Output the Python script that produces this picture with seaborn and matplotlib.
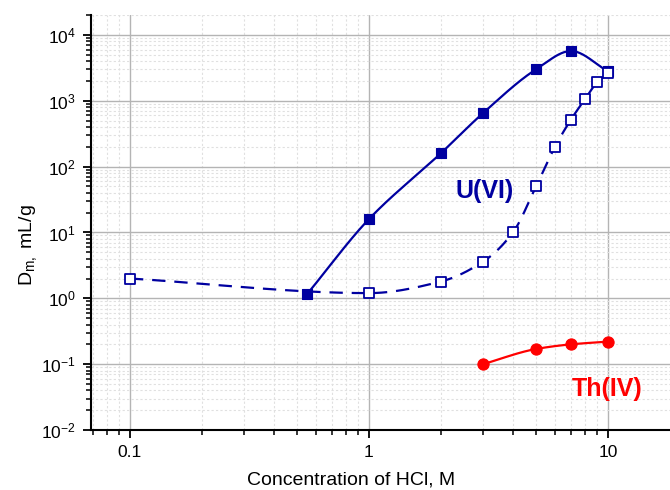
import numpy as np
import pandas as pd
import matplotlib
matplotlib.use("Agg")
import matplotlib.pyplot as plt
import matplotlib.ticker as mticker
import seaborn as sns

# HCl concentration (M) and distribution ratios
u_solid_x = [0.55, 1, 2, 3, 5, 7, 10]
u_solid_y = [1.15, 16, 160, 650, 3000, 5700, 2800]

u_open_x = [0.1, 1, 2, 3, 4, 5, 6, 7, 8, 9, 10]
u_open_y = [2.0, 1.2, 1.8, 3.6, 10, 50, 200, 520, 1050, 1900, 2600]

th_x = [3, 5, 7, 10]
th_y = [0.10, 0.17, 0.20, 0.22]

x_ticks = [0.1, 1, 10]
x_tick_labels = ["0.1", "1", "10"]
y_ticks = [1e-2, 1e-1, 1e0, 1e1, 1e2, 1e3, 1e4]

NAVY = "#0000A0"
RED = "#FF0000"


def smooth_loglog(x, y, n=400):
    """Shape-preserving (PCHIP) cubic through the points in log-log space,
    with the end slopes taken from the end segments."""
    lx = np.log10(np.asarray(x, float))
    ly = np.log10(np.asarray(y, float))
    m = len(lx)
    h = np.diff(lx)
    delta = np.diff(ly) / h
    d = np.zeros(m)
    for k in range(1, m - 1):
        if delta[k - 1] * delta[k] > 0:
            w1 = 2 * h[k] + h[k - 1]
            w2 = h[k] + 2 * h[k - 1]
            d[k] = (w1 + w2) / (w1 / delta[k - 1] + w2 / delta[k])
    d[0] = delta[0]
    d[-1] = delta[-1]
    xs = np.linspace(lx[0], lx[-1], n)
    idx = np.clip(np.searchsorted(lx, xs) - 1, 0, m - 2)
    t = (xs - lx[idx]) / h[idx]
    h00 = 2 * t ** 3 - 3 * t ** 2 + 1
    h10 = t ** 3 - 2 * t ** 2 + t
    h01 = -2 * t ** 3 + 3 * t ** 2
    h11 = t ** 3 - t ** 2
    ys = (h00 * ly[idx] + h10 * h[idx] * d[idx]
          + h01 * ly[idx + 1] + h11 * h[idx] * d[idx + 1])
    return pd.DataFrame({"x": 10 ** xs, "y": 10 ** ys})


sns.set_theme(style="white")
plt.rcParams["font.family"] = ["Liberation Sans", "DejaVu Sans"]
plt.rcParams["mathtext.fontset"] = "custom"
plt.rcParams["mathtext.rm"] = "Liberation Sans"
plt.rcParams["mathtext.it"] = "Liberation Sans:italic"
plt.rcParams["mathtext.bf"] = "Liberation Sans:bold"

fig = plt.figure(figsize=(6.7, 4.9), dpi=100)
ax = fig.add_axes([91 / 670, 60 / 490, 579 / 670, 415 / 490])
ax.set_xscale("log")
ax.set_yscale("log")
ax.set_xlim(0.0687, 18.17)
ax.set_ylim(0.01, 2.01e4)

# grid
ax.grid(True, which="major", color="#b4b4b4", linewidth=1.0, linestyle="-", zorder=0)
ax.grid(True, which="minor", color="#e0e0e0", linewidth=0.8, linestyle=(0, (2, 2)), zorder=0)
ax.set_axisbelow(True)

# smooth curves
sns.lineplot(data=smooth_loglog(u_solid_x, u_solid_y), x="x", y="y", sort=False,
             color=NAVY, linewidth=1.6, ax=ax, zorder=3)
sns.lineplot(data=smooth_loglog(u_open_x, u_open_y), x="x", y="y", sort=False,
             color=NAVY, linewidth=1.6, ax=ax, zorder=3)
ax.lines[-1].set_dashes((6, 4))
sns.lineplot(data=smooth_loglog(th_x, th_y), x="x", y="y", sort=False,
             color=RED, linewidth=1.6, ax=ax, zorder=3)

# markers
sns.scatterplot(x=u_solid_x, y=u_solid_y, marker="s", s=55, color=NAVY,
                edgecolor=NAVY, linewidth=0.8, ax=ax, zorder=4)
sns.scatterplot(x=u_open_x, y=u_open_y, marker="s", s=45, facecolor="white",
                edgecolor=NAVY, linewidth=1.3, ax=ax, zorder=4)
sns.scatterplot(x=th_x, y=th_y, marker="o", s=65, color=RED,
                edgecolor=RED, linewidth=0.8, ax=ax, zorder=4)

# labels on the curves
ax.text(3.05, 42, "U(VI)", color=NAVY, fontsize=18, fontweight="bold",
        ha="center", va="center", zorder=5)
ax.text(9.9, 0.042, "Th(IV)", color=RED, fontsize=18, fontweight="bold",
        ha="center", va="center", zorder=5)

# axes and ticks
for side in ("top", "right"):
    ax.spines[side].set_visible(False)
for side in ("left", "bottom"):
    ax.spines[side].set_color("black")
    ax.spines[side].set_linewidth(1.5)

ax.xaxis.set_major_locator(mticker.FixedLocator(x_ticks))
ax.xaxis.set_major_formatter(mticker.FixedFormatter(x_tick_labels))
ax.xaxis.set_minor_locator(mticker.LogLocator(base=10, subs=np.arange(2, 10)))
ax.xaxis.set_minor_formatter(mticker.NullFormatter())
ax.yaxis.set_major_locator(mticker.FixedLocator(y_ticks))
ax.yaxis.set_major_formatter(mticker.LogFormatterSciNotation())
ax.yaxis.set_minor_locator(mticker.LogLocator(base=10, subs=np.arange(2, 10), numticks=20))
ax.yaxis.set_minor_formatter(mticker.NullFormatter())

ax.tick_params(which="major", direction="out", length=6, width=1.3, colors="black",
               labelsize=12.5, pad=5, bottom=True, left=True)
ax.tick_params(which="minor", direction="out", length=3.5, width=1.1, colors="black",
               bottom=True, left=True)

ax.set_xlabel("Concentration of HCl, M", fontsize=14, color="black")
ax.set_ylabel(r"D$_{\mathrm{m,}}$ mL/g", fontsize=14, color="black")
ax.xaxis.label.set_va("center")
ax.yaxis.label.set_va("center")
ax.xaxis.set_label_coords((351 - 91) / 579, -(480 - 430) / 415)
ax.yaxis.set_label_coords(-(91 - 28) / 579, (430 - 245) / 415)

fig.savefig("out.png", dpi=100)
